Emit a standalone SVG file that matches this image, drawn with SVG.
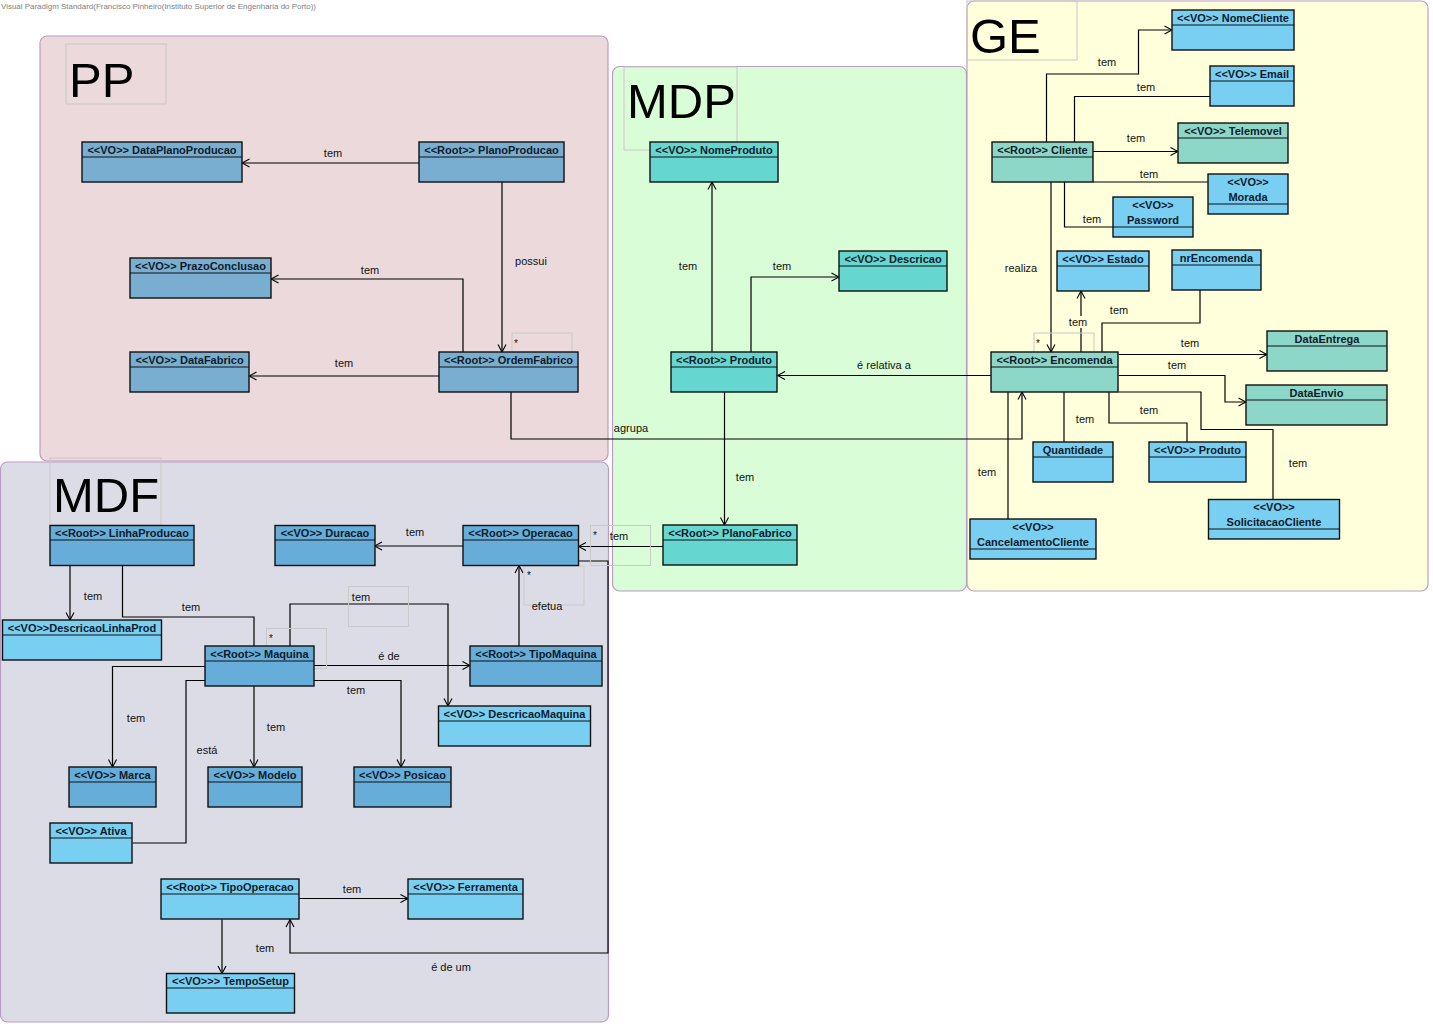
<svg xmlns="http://www.w3.org/2000/svg" width="1433" height="1027" viewBox="0 0 1433 1027">
<style>
text{font-family:"Liberation Sans",Arial,sans-serif;}
.pkg{stroke:#bb9cc4;stroke-width:1.2;}
.lblbox{fill:none;stroke:#cdc6c6;stroke-width:1;}
.big{font-size:49px;fill:#000;}
.node rect{stroke:#111;stroke-width:1.4;}
.node line{stroke:#111;stroke-width:1.2;}
.node text{font-size:11px;font-weight:bold;fill:#0d1b2a;text-anchor:middle;}
.pp{fill:#7aaed0;}
.dk{fill:#67add9;}
.lb{fill:#79cff2;}
.tq{fill:#66d7d0;}
.gt{fill:#8dd7c8;}
#edges path{fill:none;stroke:#000;stroke-width:1.2;}
.lab{font-size:11px;fill:#111;text-anchor:middle;}
.mult{font-size:10px;fill:#111;}
.faint{fill:none;stroke:#c9c9c9;stroke-width:1;}
</style>
<defs>
<marker id="arr" markerWidth="10" markerHeight="10" refX="9" refY="5" orient="auto" markerUnits="userSpaceOnUse">
<path d="M1.5,1 L9,5 L1.5,9" fill="none" stroke="#000" stroke-width="1.1"/>
</marker>
</defs>
<rect x="0" y="0" width="1433" height="1027" fill="#fff"/>
<text x="1" y="9" font-size="8" fill="#808080" textLength="315" lengthAdjust="spacingAndGlyphs">Visual Paradigm Standard(Francisco Pinheiro(Instituto Superior de Engenharia do Porto))</text>

<g id="packages">
<g id="pkg-PP"><rect class="pkg" x="40" y="36" width="568" height="425" rx="7" fill="#ebd9db"/><rect class="lblbox" x="66" y="44" width="100" height="60"/><text class="big" x="69" y="97">PP</text></g>
<g id="pkg-MDP"><rect class="pkg" x="612.5" y="66.5" width="354" height="524.5" rx="7" fill="#d9fdd7"/><rect class="lblbox" x="624" y="67" width="113" height="83"/><text class="big" x="627" y="118">MDP</text></g>
<g id="pkg-GE"><rect class="pkg" x="967" y="1" width="461" height="590" rx="7" fill="#ffffdc"/><rect class="lblbox" x="967" y="1" width="110" height="59"/><text class="big" x="970" y="53">GE</text></g>
<g id="pkg-MDF"><rect class="pkg" x="0.5" y="462" width="608" height="560" rx="7" fill="#dcdce6"/><rect class="lblbox" x="50" y="458" width="111" height="67"/><text class="big" x="53" y="512">MDF</text></g>
</g>

<g id="edges">
<path d="M419,163 H242" marker-end="url(#arr)"/>
<path d="M502,182 V352" marker-end="url(#arr)"/>
<path d="M463,352 V279 H271" marker-end="url(#arr)"/>
<path d="M439,376 H249" marker-end="url(#arr)"/>
<path d="M511,392 V439 H1022 V392" marker-end="url(#arr)"/>
<path d="M712,352 V182" marker-end="url(#arr)"/>
<path d="M751,352 V277 H839" marker-end="url(#arr)"/>
<path d="M991,375.5 H777.5" marker-end="url(#arr)"/>
<path d="M724.5,392 V525" marker-end="url(#arr)"/>
<path d="M663,546.5 H578.5" marker-end="url(#arr)"/>
<path d="M1046.5,142 V74 H1138.5 V30 H1172" marker-end="url(#arr)"/>
<path d="M1074.5,142 V96.5 H1210"/>
<path d="M1093,151.5 H1178" marker-end="url(#arr)"/>
<path d="M1093,182 H1208.5"/>
<path d="M1064.5,182 V227 H1113"/>
<path d="M1051,182 V352" marker-end="url(#arr)"/>
<path d="M1081,352 V291" marker-end="url(#arr)"/>
<path d="M1102,352 V323 H1200 V290"/>
<path d="M1118.5,354.5 H1267" marker-end="url(#arr)"/>
<path d="M1118.5,375.5 H1225 V402 H1246" marker-end="url(#arr)"/>
<path d="M1118.5,392 H1201 V429.5 H1273 V499.5"/>
<path d="M1109,392 V423 H1187 V442"/>
<path d="M1064,392 V442"/>
<path d="M1008,392 V519"/>
<path d="M463,546 H374.5" marker-end="url(#arr)"/>
<path d="M70,565 V620" marker-end="url(#arr)"/>
<path d="M122.5,565 V617 H254 V646"/>
<path d="M519,646 V565.5" marker-end="url(#arr)"/>
<path d="M314,665.5 H470" marker-end="url(#arr)"/>
<path d="M290,646 V604 H448 V706" marker-end="url(#arr)"/>
<path d="M205,666.5 H112.5 V767" marker-end="url(#arr)"/>
<path d="M254,686 V767" marker-end="url(#arr)"/>
<path d="M314,680.5 H401 V767" marker-end="url(#arr)"/>
<path d="M205,680.5 H186 V843 H132.5"/>
<path d="M578.5,561 H608 V953 H290 V919.5" marker-end="url(#arr)"/>
<path d="M299,898.5 H408" marker-end="url(#arr)"/>
<path d="M222,919.5 V973.5" marker-end="url(#arr)"/>

<text class="lab" x="333" y="157">tem</text>
<text class="lab" x="531" y="265">possui</text>
<text class="lab" x="370" y="274">tem</text>
<text class="lab" x="344" y="367">tem</text>
<text class="lab" x="631" y="432">agrupa</text>
<text class="lab" x="688" y="270">tem</text>
<text class="lab" x="782" y="270">tem</text>
<text class="lab" x="884" y="369">é relativa a</text>
<text class="lab" x="745" y="481">tem</text>
<text class="lab" x="619" y="540">tem</text>
<rect class="faint" x="590.5" y="525.5" width="60" height="40"/>
<text class="mult" x="593" y="539">*</text>
<rect class="faint" x="512" y="333" width="60" height="40"/>
<text class="mult" x="514" y="347">*</text>
<text class="lab" x="1107" y="66">tem</text>
<text class="lab" x="1146" y="91">tem</text>
<text class="lab" x="1136" y="142">tem</text>
<text class="lab" x="1149" y="178">tem</text>
<text class="lab" x="1092" y="223">tem</text>
<text class="lab" x="1021" y="272">realiza</text>
<rect class="faint" x="1034" y="333" width="60" height="40"/>
<text class="mult" x="1036" y="347">*</text>
<rect x="1068" y="316" width="20" height="12" fill="#ffffdc"/>
<text class="lab" x="1078" y="326">tem</text>
<text class="lab" x="1119" y="314">tem</text>
<text class="lab" x="1190" y="347">tem</text>
<text class="lab" x="1177" y="369">tem</text>
<text class="lab" x="1149" y="414">tem</text>
<text class="lab" x="1085" y="423">tem</text>
<text class="lab" x="1298" y="467">tem</text>
<text class="lab" x="987" y="476">tem</text>
<text class="lab" x="415" y="536">tem</text>
<text class="lab" x="93" y="600">tem</text>
<text class="lab" x="191" y="611">tem</text>
<rect class="faint" x="524" y="566" width="60" height="39"/>
<text class="mult" x="527" y="579">*</text>
<text class="lab" x="547" y="610">efetua</text>
<text class="lab" x="389" y="660">é de</text>
<rect class="faint" x="266.5" y="628.5" width="60" height="40"/>
<text class="mult" x="269" y="642">*</text>
<rect class="faint" x="348.5" y="586.5" width="60" height="40"/>
<text class="lab" x="361" y="601" font-size="12.5">tem</text>
<text class="lab" x="136" y="722">tem</text>
<text class="lab" x="276" y="731">tem</text>
<text class="lab" x="356" y="694">tem</text>
<text class="lab" x="207" y="754">está</text>
<text class="lab" x="451" y="971">é de um</text>
<text class="lab" x="352" y="893">tem</text>
<text class="lab" x="265" y="952">tem</text>
</g>

<g id="n-DataPlanoProducao" class="node"><rect class="pp" x="82" y="142" width="160" height="40"/><line x1="82" y1="157" x2="242" y2="157"/><text x="162" y="154">&lt;&lt;VO&gt;&gt; DataPlanoProducao</text></g>
<g id="n-PlanoProducao" class="node"><rect class="pp" x="419" y="142" width="145" height="40"/><line x1="419" y1="157" x2="564" y2="157"/><text x="491.5" y="154">&lt;&lt;Root&gt;&gt; PlanoProducao</text></g>
<g id="n-PrazoConclusao" class="node"><rect class="pp" x="130" y="258" width="141" height="40"/><line x1="130" y1="273" x2="271" y2="273"/><text x="200.5" y="270">&lt;&lt;VO&gt;&gt; PrazoConclusao</text></g>
<g id="n-DataFabrico" class="node"><rect class="pp" x="130" y="352" width="119" height="40"/><line x1="130" y1="367" x2="249" y2="367"/><text x="189.5" y="364">&lt;&lt;VO&gt;&gt; DataFabrico</text></g>
<g id="n-OrdemFabrico" class="node"><rect class="pp" x="439" y="352" width="139" height="40"/><line x1="439" y1="367" x2="578" y2="367"/><text x="508.5" y="364">&lt;&lt;Root&gt;&gt; OrdemFabrico</text></g>

<g id="n-NomeProduto" class="node"><rect class="tq" x="650" y="142" width="128" height="40"/><line x1="650" y1="157" x2="778" y2="157"/><text x="714" y="154">&lt;&lt;VO&gt;&gt; NomeProduto</text></g>
<g id="n-Descricao" class="node"><rect class="tq" x="839" y="251" width="108" height="40"/><line x1="839" y1="266" x2="947" y2="266"/><text x="893" y="263">&lt;&lt;VO&gt;&gt; Descricao</text></g>
<g id="n-Produto" class="node"><rect class="tq" x="671" y="352" width="106" height="40"/><line x1="671" y1="367" x2="777" y2="367"/><text x="724" y="364">&lt;&lt;Root&gt;&gt; Produto</text></g>
<g id="n-PlanoFabrico" class="node"><rect class="tq" x="663" y="525" width="134" height="40"/><line x1="663" y1="540" x2="797" y2="540"/><text x="730" y="537">&lt;&lt;Root&gt;&gt; PlanoFabrico</text></g>

<g id="n-NomeCliente" class="node"><rect class="lb" x="1172" y="10" width="122" height="40"/><line x1="1172" y1="25" x2="1294" y2="25"/><text x="1233" y="22">&lt;&lt;VO&gt;&gt; NomeCliente</text></g>
<g id="n-Email" class="node"><rect class="lb" x="1210" y="66" width="84" height="40"/><line x1="1210" y1="81" x2="1294" y2="81"/><text x="1252" y="78">&lt;&lt;VO&gt;&gt; Email</text></g>
<g id="n-Telemovel" class="node"><rect class="gt" x="1178" y="123" width="110" height="40"/><line x1="1178" y1="138" x2="1288" y2="138"/><text x="1233" y="135">&lt;&lt;VO&gt;&gt; Telemovel</text></g>
<g id="n-Cliente" class="node"><rect class="gt" x="992" y="142" width="101" height="40"/><line x1="992" y1="157" x2="1093" y2="157"/><text x="1042.5" y="154">&lt;&lt;Root&gt;&gt; Cliente</text></g>
<g id="n-Morada" class="node"><rect class="lb" x="1208" y="174" width="80" height="40"/><line x1="1208" y1="204" x2="1288" y2="204"/><text x="1248" y="186">&lt;&lt;VO&gt;&gt;</text><text x="1248" y="201">Morada</text></g>
<g id="n-Password" class="node"><rect class="lb" x="1113" y="197" width="80" height="40"/><line x1="1113" y1="227" x2="1193" y2="227"/><text x="1153" y="209">&lt;&lt;VO&gt;&gt;</text><text x="1153" y="224">Password</text></g>
<g id="n-Estado" class="node"><rect class="lb" x="1057" y="251" width="92" height="40"/><line x1="1057" y1="266" x2="1149" y2="266"/><text x="1103" y="263">&lt;&lt;VO&gt;&gt; Estado</text></g>
<g id="n-nrEncomenda" class="node"><rect class="lb" x="1172" y="250" width="89" height="40"/><line x1="1172" y1="265" x2="1261" y2="265"/><text x="1216.5" y="262">nrEncomenda</text></g>
<g id="n-Encomenda" class="node"><rect class="gt" x="991" y="352" width="127" height="40"/><line x1="991" y1="367" x2="1118" y2="367"/><text x="1054.5" y="364">&lt;&lt;Root&gt;&gt; Encomenda</text></g>
<g id="n-DataEntrega" class="node"><rect class="gt" x="1267" y="331" width="120" height="40"/><line x1="1267" y1="346" x2="1387" y2="346"/><text x="1327" y="343">DataEntrega</text></g>
<g id="n-DataEnvio" class="node"><rect class="gt" x="1246" y="385" width="141" height="40"/><line x1="1246" y1="400" x2="1387" y2="400"/><text x="1316.5" y="397">DataEnvio</text></g>
<g id="n-Quantidade" class="node"><rect class="lb" x="1033" y="442" width="80" height="40"/><line x1="1033" y1="457" x2="1113" y2="457"/><text x="1073" y="454">Quantidade</text></g>
<g id="n-ProdutoGE" class="node"><rect class="lb" x="1149" y="442" width="97" height="40"/><line x1="1149" y1="457" x2="1246" y2="457"/><text x="1197.5" y="454">&lt;&lt;VO&gt;&gt; Produto</text></g>
<g id="n-SolicitacaoCliente" class="node"><rect class="lb" x="1208.5" y="499.5" width="131" height="39.5"/><line x1="1208.5" y1="529" x2="1339.5" y2="529"/><text x="1274" y="511">&lt;&lt;VO&gt;&gt;</text><text x="1274" y="526">SolicitacaoCliente</text></g>
<g id="n-CancelamentoCliente" class="node"><rect class="lb" x="970" y="519" width="126" height="40"/><line x1="970" y1="549" x2="1096" y2="549"/><text x="1033" y="531">&lt;&lt;VO&gt;&gt;</text><text x="1033" y="546">CancelamentoCliente</text></g>

<g id="n-LinhaProducao" class="node"><rect class="dk" x="50" y="525.5" width="144" height="40"/><line x1="50" y1="540" x2="194" y2="540"/><text x="122" y="537">&lt;&lt;Root&gt;&gt; LinhaProducao</text></g>
<g id="n-Duracao" class="node"><rect class="dk" x="275" y="525.5" width="100" height="40"/><line x1="275" y1="540" x2="375" y2="540"/><text x="325" y="537">&lt;&lt;VO&gt;&gt; Duracao</text></g>
<g id="n-Operacao" class="node"><rect class="dk" x="463" y="525.5" width="115.5" height="40"/><line x1="463" y1="540" x2="578.5" y2="540"/><text x="520.5" y="537">&lt;&lt;Root&gt;&gt; Operacao</text></g>
<g id="n-DescricaoLinhaProd" class="node"><rect class="lb" x="2.5" y="620" width="159" height="40"/><line x1="2.5" y1="635" x2="161.5" y2="635"/><text x="82" y="632">&lt;&lt;VO&gt;&gt;DescricaoLinhaProd</text></g>
<g id="n-Maquina" class="node"><rect class="dk" x="205" y="646" width="109" height="40"/><line x1="205" y1="661" x2="314" y2="661"/><text x="259.5" y="658">&lt;&lt;Root&gt;&gt; Maquina</text></g>
<g id="n-TipoMaquina" class="node"><rect class="dk" x="470" y="646" width="132" height="40"/><line x1="470" y1="661" x2="602" y2="661"/><text x="536" y="658">&lt;&lt;Root&gt;&gt; TipoMaquina</text></g>
<g id="n-DescricaoMaquina" class="node"><rect class="lb" x="438.5" y="706" width="152" height="40"/><line x1="438.5" y1="721" x2="590.5" y2="721"/><text x="514.5" y="718">&lt;&lt;VO&gt;&gt; DescricaoMaquina</text></g>
<g id="n-Marca" class="node"><rect class="dk" x="69" y="767" width="87" height="40"/><line x1="69" y1="782" x2="156" y2="782"/><text x="112.5" y="779">&lt;&lt;VO&gt;&gt; Marca</text></g>
<g id="n-Modelo" class="node"><rect class="dk" x="208" y="767" width="94" height="40"/><line x1="208" y1="782" x2="302" y2="782"/><text x="255" y="779">&lt;&lt;VO&gt;&gt; Modelo</text></g>
<g id="n-Posicao" class="node"><rect class="dk" x="354" y="767" width="97" height="40"/><line x1="354" y1="782" x2="451" y2="782"/><text x="402.5" y="779">&lt;&lt;VO&gt;&gt; Posicao</text></g>
<g id="n-Ativa" class="node"><rect class="lb" x="50" y="823" width="82" height="40"/><line x1="50" y1="838" x2="132" y2="838"/><text x="91" y="835">&lt;&lt;VO&gt;&gt; Ativa</text></g>
<g id="n-TipoOperacao" class="node"><rect class="lb" x="161" y="879" width="138" height="40"/><line x1="161" y1="894" x2="299" y2="894"/><text x="230" y="891">&lt;&lt;Root&gt;&gt; TipoOperacao</text></g>
<g id="n-Ferramenta" class="node"><rect class="lb" x="408" y="879" width="115" height="40"/><line x1="408" y1="894" x2="523" y2="894"/><text x="465.5" y="891">&lt;&lt;VO&gt;&gt; Ferramenta</text></g>
<g id="n-TempoSetup" class="node"><rect class="lb" x="166.5" y="973.5" width="128" height="39.5"/><line x1="166.5" y1="988" x2="294.5" y2="988"/><text x="230.5" y="985">&lt;&lt;VO&gt;&gt;&gt; TempoSetup</text></g>
</svg>
